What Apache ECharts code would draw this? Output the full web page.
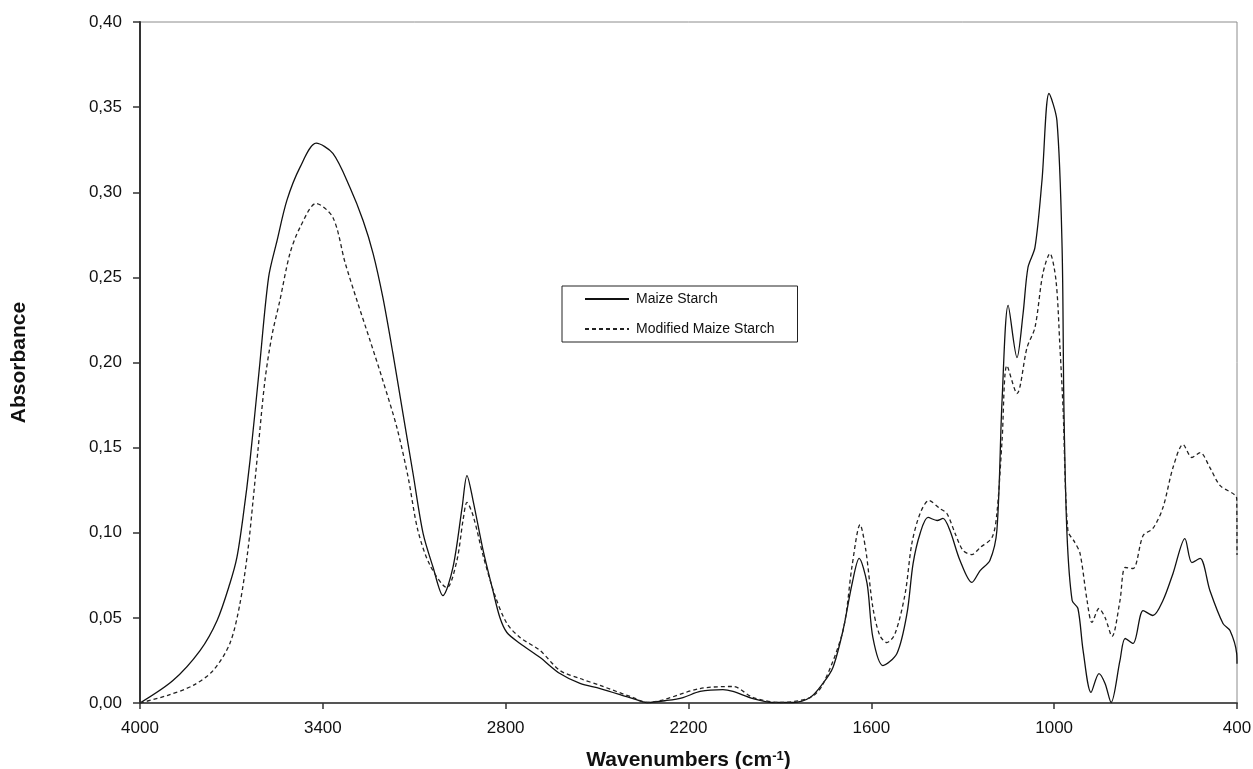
<!DOCTYPE html>
<html>
<head>
<meta charset="utf-8">
<script src="https://cdn.jsdelivr.net/npm/echarts@6/dist/echarts.min.js"></script>
<style>html,body{margin:0;padding:0;background:#fff;}#chart{width:1253px;height:769px;}</style>
</head>
<body>
<div id="chart"></div>
<script>
// Wavenumber (cm-1) / absorbance pairs
var maizeStarch = [
[4000,0.000],[3892,0.0132],[3803,0.0308],[3747,0.0485],[3705,0.0702],[3682,0.0855],[3662,0.109],[3639,0.1424],
[3609,0.1953],[3578,0.250],[3550,0.2717],[3518,0.2952],[3475,0.3146],[3422,0.3288],[3367,0.3228],[3311,0.3028],
[3268,0.2834],[3235,0.2640],[3203,0.2382],[3170,0.2053],[3137,0.1700],[3104,0.1348],[3071,0.0996],[3038,0.0796],
[3006,0.0631],[2973,0.0796],[2943,0.1148],[2927,0.1336],[2907,0.1189],[2874,0.0896],[2842,0.0661],[2819,0.0502],
[2796,0.0414],[2753,0.0350],[2687,0.0267],[2622,0.0173],[2556,0.0115],[2490,0.0085],[2382,0.0026],[2336,0.0003],
[2271,0.0015],[2218,0.0032],[2162,0.0068],[2087,0.0079],[2054,0.0068],[1988,0.0026],[1923,0.0003],[1857,0.0003],
[1801,0.0032],[1759,0.0115],[1726,0.0209],[1693,0.0426],[1663,0.0702],[1640,0.0849],[1614,0.0702],[1595,0.0385],
[1562,0.0220],[1516,0.0291],[1483,0.0526],[1463,0.0819],[1440,0.0996],[1414,0.1090],[1384,0.1072],[1365,0.1084],
[1342,0.1013],[1309,0.0837],[1270,0.0708],[1243,0.0778],[1211,0.0837],[1188,0.1013],[1171,0.1777],[1151,0.2335],
[1122,0.2029],[1102,0.2288],[1086,0.2558],[1063,0.2676],[1040,0.3069],[1017,0.3580],[991,0.3422],[974,0.2676],
[968,0.1736],[958,0.0996],[941,0.0602],[922,0.0555],[905,0.0308],[879,0.0062],[853,0.0173],[833,0.0115],
[813,0.0003],[784,0.0250],[767,0.0379],[741,0.0350],[708,0.0543],[676,0.0514],[643,0.0602],[610,0.0761],
[571,0.0966],[548,0.0825],[521,0.0849],[489,0.0661],[446,0.0467],[423,0.0426],[401,0.0290],[400,0.0230]
];
var modifiedMaizeStarch = [
[4000,0.000],[3911,0.0044],[3826,0.0103],[3760,0.0191],[3705,0.0350],[3672,0.0584],[3646,0.0896],[3629,0.1189],
[3613,0.1483],[3590,0.1894],[3567,0.2159],[3541,0.2364],[3508,0.2640],[3475,0.2793],[3422,0.2934],[3367,0.2852],
[3327,0.2587],[3288,0.2364],[3245,0.2129],[3203,0.1894],[3157,0.1618],[3120,0.1325],[3088,0.1013],[3048,0.0808],
[2993,0.0678],[2960,0.0837],[2940,0.1072],[2927,0.1178],[2907,0.1101],[2874,0.0866],[2835,0.0631],[2796,0.0467],
[2753,0.0385],[2687,0.0308],[2622,0.0191],[2556,0.0144],[2490,0.0103],[2382,0.0032],[2336,0.0003],[2162,0.0085],
[2054,0.0097],[1988,0.0032],[1900,0.0003],[1801,0.0032],[1759,0.0109],[1693,0.0426],[1663,0.0808],[1637,0.1048],
[1618,0.0896],[1595,0.0561],[1572,0.0396],[1549,0.0355],[1522,0.0408],[1489,0.0643],[1467,0.0937],[1440,0.1113],
[1411,0.1189],[1375,0.1142],[1352,0.1113],[1325,0.0996],[1299,0.0896],[1270,0.0872],[1243,0.0913],[1204,0.0972],
[1188,0.1113],[1171,0.1542],[1155,0.1982],[1122,0.1818],[1089,0.2088],[1063,0.2206],[1037,0.2523],[1014,0.2640],
[994,0.2482],[981,0.2088],[971,0.1736],[955,0.1013],[932,0.0943],[915,0.0878],[892,0.0602],[876,0.0473],
[853,0.0555],[833,0.0502],[810,0.0391],[784,0.0602],[767,0.0796],[741,0.0790],[708,0.0984],[676,0.1025],
[643,0.1148],[610,0.1383],[577,0.1518],[548,0.1442],[521,0.1471],[489,0.1383],[456,0.1278],[401,0.1201],[400,0.0870]
];
var xTicks = [400, 1000, 1600, 2200, 2800, 3400, 4000];
var seriesNames = ['Maize Starch', 'Modified Maize Starch'];

var font = 'Liberation Sans, Arial, sans-serif';
var chart = echarts.init(document.getElementById('chart'), null, {renderer: 'canvas'});
chart.setOption({
  animation: false,
  backgroundColor: '#ffffff',
  grid: {left: 140, right: 16, top: 22, bottom: 66, show: true, borderColor: '#8c8c8c', borderWidth: 1,
         containLabel: false, outerBoundsMode: 'none'},
  legend: {
    show: true, orient: 'vertical', left: 562, top: 286,
    data: seriesNames,
    itemWidth: 44, itemHeight: 14, itemGap: 16,
    padding: [6, 23, 6, 22],
    borderColor: '#222', borderWidth: 1, backgroundColor: '#fff',
    itemStyle: {opacity: 0},
    textStyle: {fontFamily: font, fontSize: 14, color: '#111', padding: [0, 0, 0, 2]}
  },
  xAxis: {
    type: 'value', inverse: true, min: 400, max: 4000,
    name: 'Wavenumbers (cm{sup|-1})',
    nameLocation: 'middle', nameGap: 47,
    nameTextStyle: {fontFamily: font, fontSize: 21, fontWeight: 'bold', color: '#111',
      rich: {sup: {fontFamily: font, fontSize: 13, fontWeight: 'bold', color: '#111', verticalAlign: 'top', padding: [0,0,8,0]}}},
    axisLine: {show: true, lineStyle: {color: '#555', width: 2}},
    axisTick: {show: true, length: 6, inside: false, customValues: xTicks, lineStyle: {color: '#333', width: 1.5}},
    axisLabel: {show: true, margin: 17, customValues: xTicks, fontFamily: font, fontSize: 17, color: '#111',
      formatter: function (v) { return String(Math.round(v)); }},
    splitLine: {show: false}
  },
  yAxis: {
    type: 'value', min: 0, max: 0.4, interval: 0.05,
    name: 'Absorbance', nameLocation: 'middle', nameGap: 110, nameRotate: 90,
    nameTextStyle: {fontFamily: font, fontSize: 21, fontWeight: 'bold', color: '#111'},
    axisLine: {show: true, lineStyle: {color: '#333', width: 2}},
    axisTick: {show: true, length: 7, inside: false, lineStyle: {color: '#333', width: 1.5}},
    axisLabel: {margin: 18, fontFamily: font, fontSize: 17, color: '#111',
      formatter: function (v) { return v.toFixed(2).replace('.', ','); }},
    splitLine: {show: false}
  },
  series: [
    {name: seriesNames[0], type: 'line', data: maizeStarch, smooth: 0.3, symbol: 'none', showSymbol: false,
     lineStyle: {color: '#111', width: 1.3, type: 'solid'}, itemStyle: {color: '#111'}},
    {name: seriesNames[1], type: 'line', data: modifiedMaizeStarch, smooth: 0.3, symbol: 'none', showSymbol: false,
     lineStyle: {color: '#222', width: 1.3, type: [4, 3]}, itemStyle: {color: '#222'}}
  ]
});
</script>
</body>
</html>
